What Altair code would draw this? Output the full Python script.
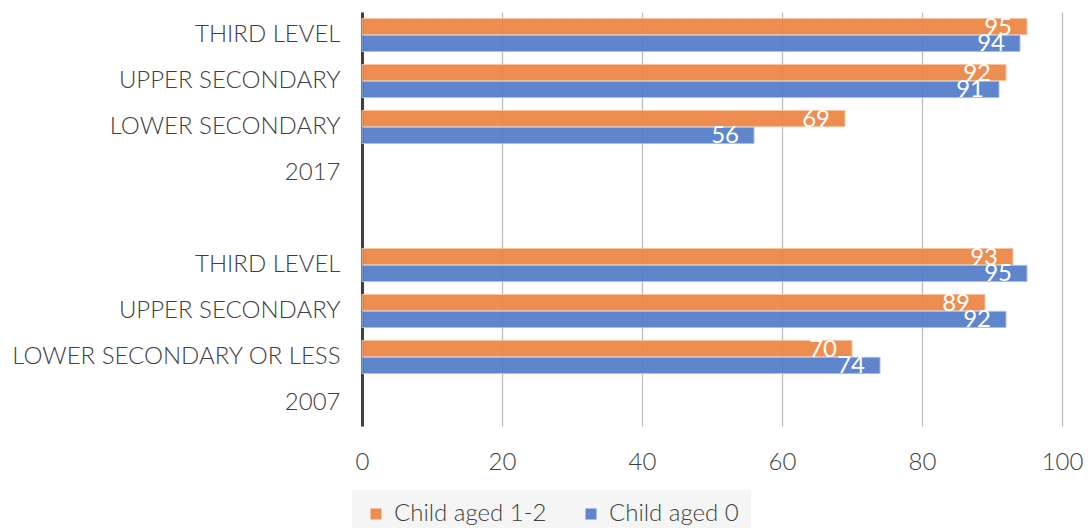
import altair as alt
import pandas as pd

# Row keys (top to bottom) and the text shown for each on the category axis
row_ids = ["y17_third", "y17_upper", "y17_lower", "y17", "gap",
           "y07_third", "y07_upper", "y07_lower", "y07"]
row_labels = ["THIRD LEVEL", "UPPER SECONDARY", "LOWER SECONDARY", "2017", "",
              "THIRD LEVEL", "UPPER SECONDARY", "LOWER SECONDARY OR LESS", "2007"]

series = ["Child aged 1-2", "Child aged 0"]
series_colors = ["#EC8441", "#517BC9"]
series_strokes = ["#F5C3A2", "#A8BEE6"]

# Values per education row, in the same order as the rows that carry bars
bar_rows = ["y17_third", "y17_upper", "y17_lower",
            "y07_third", "y07_upper", "y07_lower"]
aged_1_2 = [95, 92, 69, 93, 89, 70]
aged_0 = [94, 91, 56, 95, 92, 74]

records = []
for r, a, b in zip(bar_rows, aged_1_2, aged_0):
    records.append({"row": r, "series": series[0], "value": a})
    records.append({"row": r, "series": series[1], "value": b})
df = pd.DataFrame(records)

label_map = "{" + ",".join(f"'{k}':'{v}'" for k, v in zip(row_ids, row_labels)) + "}"

FONT = "Lato"
WEIGHT = 300
TEXT = "#404040"

y_enc = alt.Y(
    "row:N",
    scale=alt.Scale(domain=row_ids, paddingInner=0.28, paddingOuter=0.14),
    axis=alt.Axis(
        title=None, ticks=False, grid=False,
        domainColor=TEXT, domainWidth=3,
        labelExpr=f"{label_map}[datum.value]",
        labelFont=FONT, labelFontSize=24, labelFontWeight=WEIGHT,
        labelColor=TEXT, labelPadding=22, labelLimit=400,
    ),
)
x_enc = alt.X(
    "value:Q",
    scale=alt.Scale(domain=[0, 100], nice=False),
    axis=alt.Axis(
        title=None, values=[0, 20, 40, 60, 80, 100],
        domain=False, ticks=False, labelFlush=False,
        grid=True, gridColor="#BDBDBD", gridWidth=1.3,
        labelFont=FONT, labelFontSize=24, labelFontWeight=WEIGHT,
        labelColor=TEXT, labelPadding=24,
    ),
)
yoff_enc = alt.YOffset(
    "series:N",
    scale=alt.Scale(domain=series, paddingInner=0.04),
)

bars = alt.Chart(df).mark_bar(
    fillOpacity=0.92, strokeWidth=1
).encode(
    x=x_enc,
    y=y_enc,
    yOffset=yoff_enc,
    color=alt.Color(
        "series:N",
        scale=alt.Scale(domain=series, range=series_colors),
        legend=alt.Legend(
            title=None, orient="none", direction="horizontal",
            legendX=-10, legendY=478,
            fillColor="#F5F5F5", padding=12,
            symbolType="square", symbolSize=121, symbolStrokeWidth=0,
            symbolOpacity=0.92,
            labelFont=FONT, labelFontSize=24, labelFontWeight=WEIGHT,
            labelColor=TEXT, labelOffset=6, columnPadding=32,
        ),
    ),
    stroke=alt.Stroke(
        "series:N",
        scale=alt.Scale(domain=series, range=series_strokes),
        legend=None,
    ),
)

# Value labels sit inside the end of each bar
labels = alt.Chart(df).mark_text(
    align="right", baseline="middle", dx=-15, dy=1,
    font=FONT, fontSize=24, fontWeight=400, color="white",
).encode(
    x="value:Q",
    y=alt.Y("row:N", scale=alt.Scale(domain=row_ids)),
    yOffset=alt.YOffset("series:N", scale=alt.Scale(domain=series)),
    text="value:Q",
)

chart = alt.layer(bars, labels).properties(
    width=700, height=414,
    autosize=alt.AutoSizeParams(type="none"),
    padding={"left": 362, "top": 12, "right": 27, "bottom": 102},
).configure_view(stroke=None)

chart.save("out.html", embed_options={"renderer": "svg", "actions": False})
